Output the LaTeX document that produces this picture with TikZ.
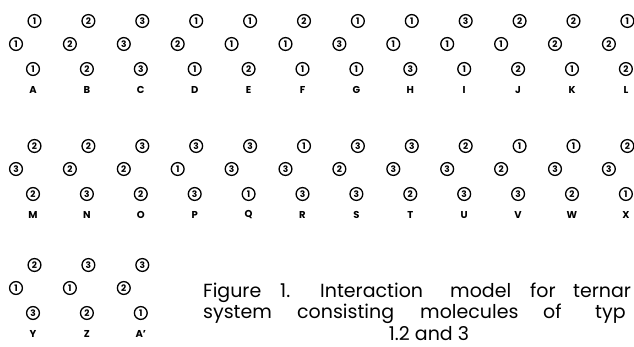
\documentclass[tikz,border=0pt]{standalone}
\usepackage{fontspec}
\setmainfont{Poppins}
\begin{document}
\begin{tikzpicture}[x=1pt,y=-1pt,
  mol/.style={circle,draw,line width=1.3pt,minimum size=12.8pt,inner sep=0pt,
    font=\fontsize{9}{9}\selectfont\bfseries},
  tag/.style={inner sep=0pt,font=\fontsize{10}{10}\selectfont\bfseries},
  captext/.style={anchor=base west,inner sep=0pt,font=\fontsize{19}{21}\selectfont}]
\useasboundingbox (0,0) rectangle (634,347);

% name / printed label / column / top row y / top, middle, bottom molecule
\foreach \name/\lab/\col/\ty/\a/\b/\c in {
  A/A/0/21/1/1/1, B/B/1/21/2/2/2, C/C/2/21/3/3/3, D/D/3/21/1/2/1,
  E/E/4/21/1/1/2, F/F/5/21/2/1/1, G/G/6/21/1/3/1, H/H/7/21/1/1/3,
  I/I/8/21/3/1/1, J/J/9/21/2/1/2, K/K/10/21/2/2/1, L/L/11/21/1/2/2,
  M/M/0/146/2/3/2, N/N/1/146/2/2/3, O/O/2/146/3/2/2, P/P/3/146/3/1/3,
  Q/Q/4/146/3/3/1, R/R/5/146/1/3/3, S/S/6/146/3/2/3, T/T/7/146/3/3/2,
  U/U/8/146/2/3/3, V/V/9/146/1/2/3, W/W/10/146/1/3/2, X/X/11/146/2/3/1,
  Y/Y/0/265/2/1/3, Z/Z/1/265/3/1/2, Ap/A'/2/265/3/2/1} {
  \pgfmathsetmacro\tx{34.5+53.9*\col}
  \node[mol] (\name-t) at (\tx,\ty) {\a};
  \node[mol] (\name-m) at (\tx-18.5,\ty+23) {\b};
  \node[mol] (\name-b) at (\tx-1.5,\ty+48) {\c};
  \node[tag] (\name-l) at (\tx-1.5,\ty+69) {\lab};
}

% caption, justified word by word
\node[captext] (w1) at (203,297) {Figure};
\node[captext] (w2) at (280,297) {1.};
\node[captext] (w3) at (320,297) {Interaction};
\node[captext] (w4) at (450,297) {model};
\node[captext] (w5) at (530,297) {for};
\node[captext] (w6) at (573,297) {ternar};
\node[captext] (v1) at (203,318) {system};
\node[captext] (v2) at (297,318) {consisting};
\node[captext] (v3) at (420,318) {molecules};
\node[captext] (v4) at (543,318) {of};
\node[captext] (v5) at (595,318) {typ};
\node[captext,anchor=base] (u1) at (429,340) {1.2 and 3};
\end{tikzpicture}
\end{document}
